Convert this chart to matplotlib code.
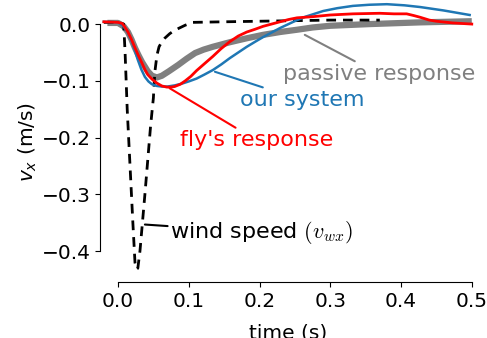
import numpy as np
import matplotlib
matplotlib.use("Agg")
import matplotlib.pyplot as plt

# values (time in s, v_x in m/s)
t_wind = [-0.02, 0.0, 0.008, 0.010, 0.013, 0.017, 0.021, 0.024, 0.026,
          0.028, 0.031, 0.038, 0.046, 0.050, 0.052, 0.055, 0.058, 0.062, 0.066,
          0.073, 0.080, 0.095, 0.106, 0.15, 0.2, 0.25, 0.3, 0.37]
v_wind = [0.003, 0.003, 0.0, -0.05, -0.15, -0.25, -0.35, -0.42, -0.432,
          -0.43, -0.40, -0.30, -0.18, -0.13, -0.085, -0.055, -0.04, -0.031, -0.025,
          -0.017, -0.011, -0.002, 0.003, 0.004, 0.005, 0.006, 0.007, 0.007]

t_passive = [-0.015, 0.0, 0.008, 0.014, 0.019, 0.024, 0.029, 0.034, 0.042, 0.048,
             0.055, 0.062, 0.072, 0.085, 0.097, 0.109, 0.121, 0.134, 0.158, 0.182,
             0.205, 0.229, 0.253, 0.275, 0.3, 0.356, 0.427, 0.5]
v_passive = [0.002, 0.002, -0.004, -0.014, -0.027, -0.042, -0.055, -0.067, -0.083, -0.091,
             -0.094, -0.091, -0.083, -0.072, -0.061, -0.051, -0.045, -0.04, -0.032, -0.025,
             -0.019, -0.014, -0.01, -0.006, -0.003, 0.0, 0.003, 0.005]

t_system = [-0.02, 0.0, 0.007, 0.013, 0.02, 0.028, 0.033, 0.038, 0.043, 0.048, 0.055,
            0.062, 0.07, 0.08, 0.09, 0.1, 0.111, 0.122, 0.134, 0.146, 0.158, 0.17,
            0.182, 0.194, 0.205, 0.217, 0.229, 0.241, 0.253, 0.265, 0.275, 0.29,
            0.31, 0.332, 0.355, 0.38, 0.405, 0.427, 0.46, 0.497]
v_system = [0.004, 0.003, -0.003, -0.013, -0.032, -0.063, -0.08, -0.093, -0.101, -0.106, -0.109,
            -0.11, -0.11, -0.108, -0.105, -0.101, -0.096, -0.089, -0.081, -0.071, -0.06, -0.05,
            -0.04, -0.031, -0.023, -0.015, -0.007, 0.0, 0.007, 0.013, 0.017, 0.023,
            0.028, 0.032, 0.034, 0.035, 0.033, 0.03, 0.024, 0.016]

t_fly = [-0.02, 0.0, 0.006, 0.01, 0.014, 0.019, 0.024, 0.029, 0.034, 0.038, 0.042,
         0.048, 0.055, 0.062, 0.069, 0.075, 0.08, 0.088, 0.095, 0.103, 0.111, 0.122,
         0.134, 0.146, 0.158, 0.17, 0.182, 0.194, 0.205, 0.217, 0.229, 0.241, 0.253,
         0.275, 0.3, 0.332, 0.37, 0.39, 0.408, 0.418, 0.427, 0.44, 0.45, 0.473, 0.5]
v_fly = [0.004, 0.003, 0.001, -0.006, -0.014, -0.027, -0.042, -0.056, -0.069, -0.08, -0.089,
         -0.097, -0.104, -0.109, -0.111, -0.111, -0.11, -0.106, -0.1, -0.092, -0.082, -0.07,
         -0.057, -0.043, -0.031, -0.021, -0.014, -0.009, -0.004, 0.0, 0.004, 0.008, 0.011,
         0.013, 0.016, 0.018, 0.019, 0.018, 0.018, 0.015, 0.012, 0.007, 0.005, 0.002, 0.0]

xticks = [0.0, 0.1, 0.2, 0.3, 0.4, 0.5]
yticks = [0.0, -0.1, -0.2, -0.3, -0.4]

plt.rcParams['font.size'] = 14.5

fig = plt.figure(figsize=(4.87, 3.38), dpi=100)
ax = fig.add_axes([0.206, 0.166, 0.770, 0.830])

ax.plot(t_passive, v_passive, color='#808080', lw=4.5, solid_capstyle='butt')
ax.plot(t_wind, v_wind, color='black', lw=2, ls=(0, (3.5, 2.5)))
ax.plot(t_system, v_system, color='#1f77b4', lw=1.8)
ax.plot(t_fly, v_fly, color='#ff0000', lw=2)

ax.set_xlim(-0.025, 0.505)
ax.set_ylim(-0.454, 0.04)
ax.set_xticks(xticks)
ax.set_yticks(yticks)
ax.set_xticklabels(['%.1f' % x for x in xticks])
ax.set_yticklabels(['\u2212%.1f' % abs(y) if y < 0 else '%.1f' % y for y in yticks])

for s in ['top', 'right']:
    ax.spines[s].set_visible(False)
ax.spines['left'].set_bounds(-0.4, 0.0)
ax.spines['bottom'].set_bounds(0.0, 0.5)

ax.set_xlabel('time (s)', labelpad=9)
ax.set_ylabel(r'$v_x$ (m/s)', labelpad=2)

# labels with leader lines
line = dict(arrowstyle='-', lw=1.5, shrinkA=0, shrinkB=0)
ax.annotate('passive response', xy=(0.264, -0.019), xytext=(0.233, -0.088),
            color='#808080', va='center', arrowprops=dict(line, color='#808080'),
            fontsize=16)
ax.annotate('our system', xy=(0.137, -0.084), xytext=(0.172, -0.134),
            color='#1f77b4', va='center', arrowprops=dict(line, color='#1f77b4'),
            fontsize=16)
ax.annotate("fly's response", xy=(0.073, -0.113), xytext=(0.088, -0.205),
            color='#ff0000', va='center', arrowprops=dict(line, color='#ff0000'),
            fontsize=16)
ax.annotate(r'wind speed $(v_{wx})$', xy=(0.038, -0.353), xytext=(0.074, -0.367),
            color='black', va='center', arrowprops=dict(line, color='black'),
            fontsize=16, math_fontfamily='cm')

fig.savefig('out.png', dpi=100)
